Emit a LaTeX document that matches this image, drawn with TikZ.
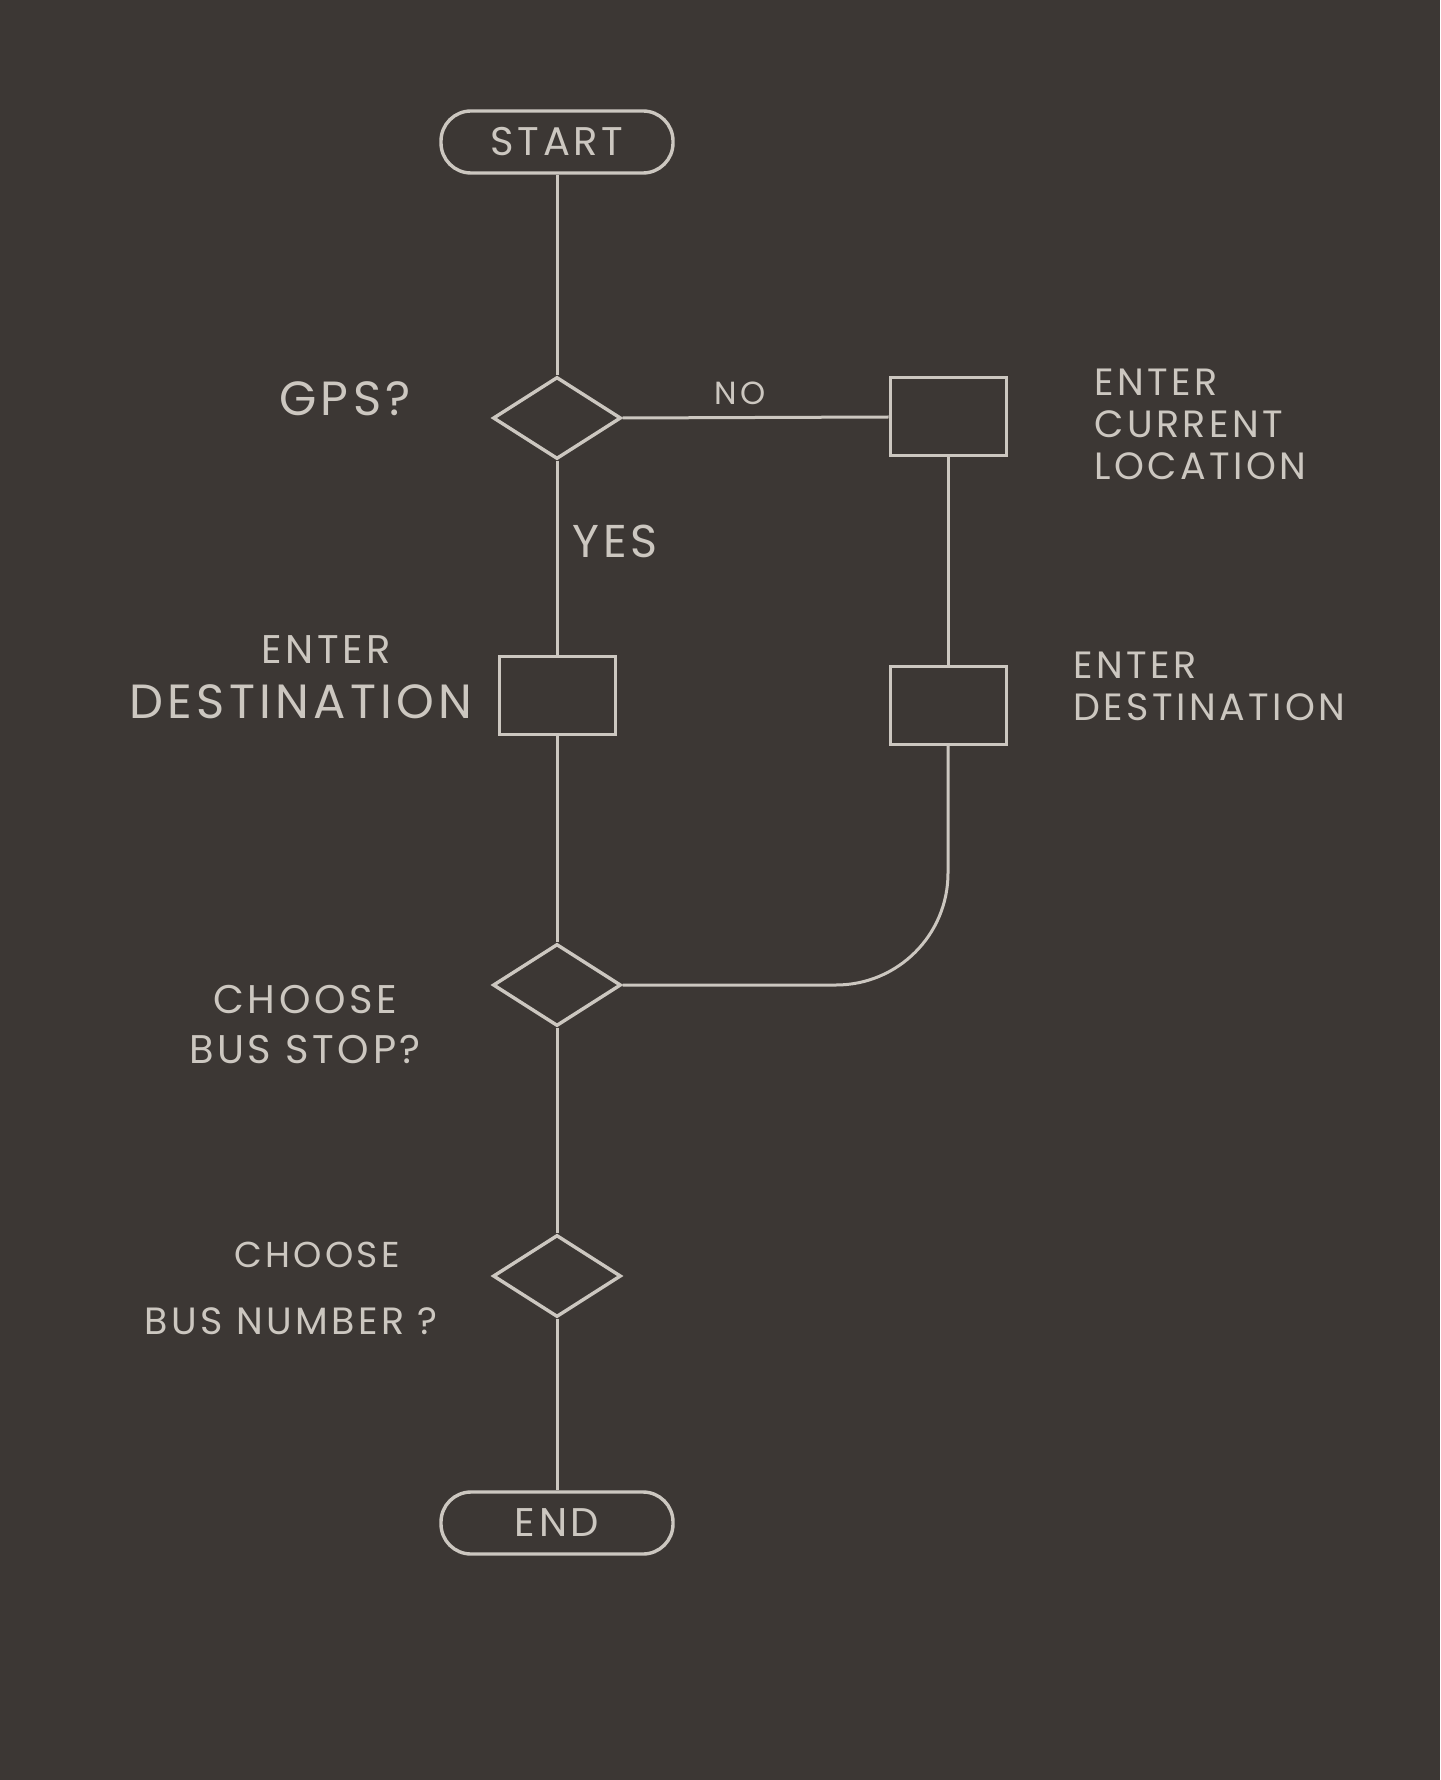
\documentclass[tikz,border=0pt]{standalone}
\usepackage{fontspec}
\setmainfont{Poppins}
\newfontfamily\handfont[LetterSpace=9]{Poppins}
\usetikzlibrary{positioning,shapes.geometric}
\definecolor{PaperDark}{RGB}{60,55,52}
\definecolor{Chalk}{RGB}{204,199,192}
\tikzset{
  term/.style={draw=Chalk,line width=1.7pt,rounded corners=15pt,inner sep=0pt,
    minimum width=116pt,minimum height=31pt,text=Chalk,font=\handfont\fontsize{20}{22}\selectfont},
  decide/.style={diamond,draw=Chalk,line width=1.7pt,inner sep=0pt,
    minimum width=64pt,minimum height=41pt},
  proc/.style={draw=Chalk,line width=1.5pt,inner sep=0pt,
    minimum width=58pt,minimum height=39pt},
  flow/.style={draw=Chalk,line width=1.5pt},
  note/.style={text=Chalk,inner sep=0pt,align=left},
}

\begin{document}
\begin{tikzpicture}[x=0.5pt,y=-0.5pt]
\fill[PaperDark] (0,0) rectangle (1440,1780);
\useasboundingbox (0,0) rectangle (1440,1780);
\coordinate (c1) at (557,142);
\coordinate (c2) at (557,418);
\coordinate (c3) at (557,695);
\coordinate (c4) at (557,985);
\coordinate (c5) at (557,1276);
\coordinate (c6) at (557,1523);
\coordinate (r1) at (948,417);
\coordinate (r2) at (948,705);
% shapes
\node[term] (start) at (c1) {START};
\node[decide] (gps) at (c2) {};
\node[proc] (dest) at (c3) {};
\node[decide] (stop) at (c4) {};
\node[decide] (bus) at (c5) {};
\node[term] (end) at (c6) {END};
\node[proc] (loc) at (r1) {};
\node[proc] (dest2) at (r2) {};
% connectors
\draw[flow] (start) -- (gps);
\draw[flow] (gps) -- (dest);
\draw[flow] (gps.east) -- (loc.west);
\draw[flow] (loc) -- (dest2);
\draw[flow] (dest) -- (stop);
\draw[flow,rounded corners=56pt] (dest2.south) |- (stop.east);
\draw[flow] (stop) -- (bus);
\draw[flow] (bus) -- (end);
% labels
\node[note,font=\handfont\fontsize{24}{26}\selectfont] (gpsq) at (345,399) {GPS?};
\node[note,font=\handfont\fontsize{16}{18}\selectfont] (no) at (740,393) {NO};
\node[note,font=\handfont\fontsize{23}{25}\selectfont] (yes) at (615,541) {YES};
\node[note,anchor=west,font=\handfont\fontsize{19}{21}\selectfont] (locl) at (1094,424)
  {ENTER\\CURRENT\\LOCATION};
\node[note,font=\handfont\fontsize{20}{22}\selectfont] (entl) at (326,650) {ENTER};
\node[note,font=\handfont\fontsize{24}{26}\selectfont] (destl) at (301,702) {DESTINATION};
\node[note,anchor=west,font=\handfont\fontsize{19}{21}\selectfont] (dest2l) at (1073,686)
  {ENTER\\DESTINATION};
\node[note,align=center,font=\handfont\fontsize{20}{25}\selectfont] (stopl) at (305,1025)
  {CHOOSE\\BUS STOP?};
\node[note,font=\handfont\fontsize{18}{20}\selectfont] (busc) at (317,1255) {CHOOSE};
\node[note,font=\handfont\fontsize{19}{20}\selectfont] (busn) at (291,1321) {BUS NUMBER ?};
\end{tikzpicture}
\end{document}
